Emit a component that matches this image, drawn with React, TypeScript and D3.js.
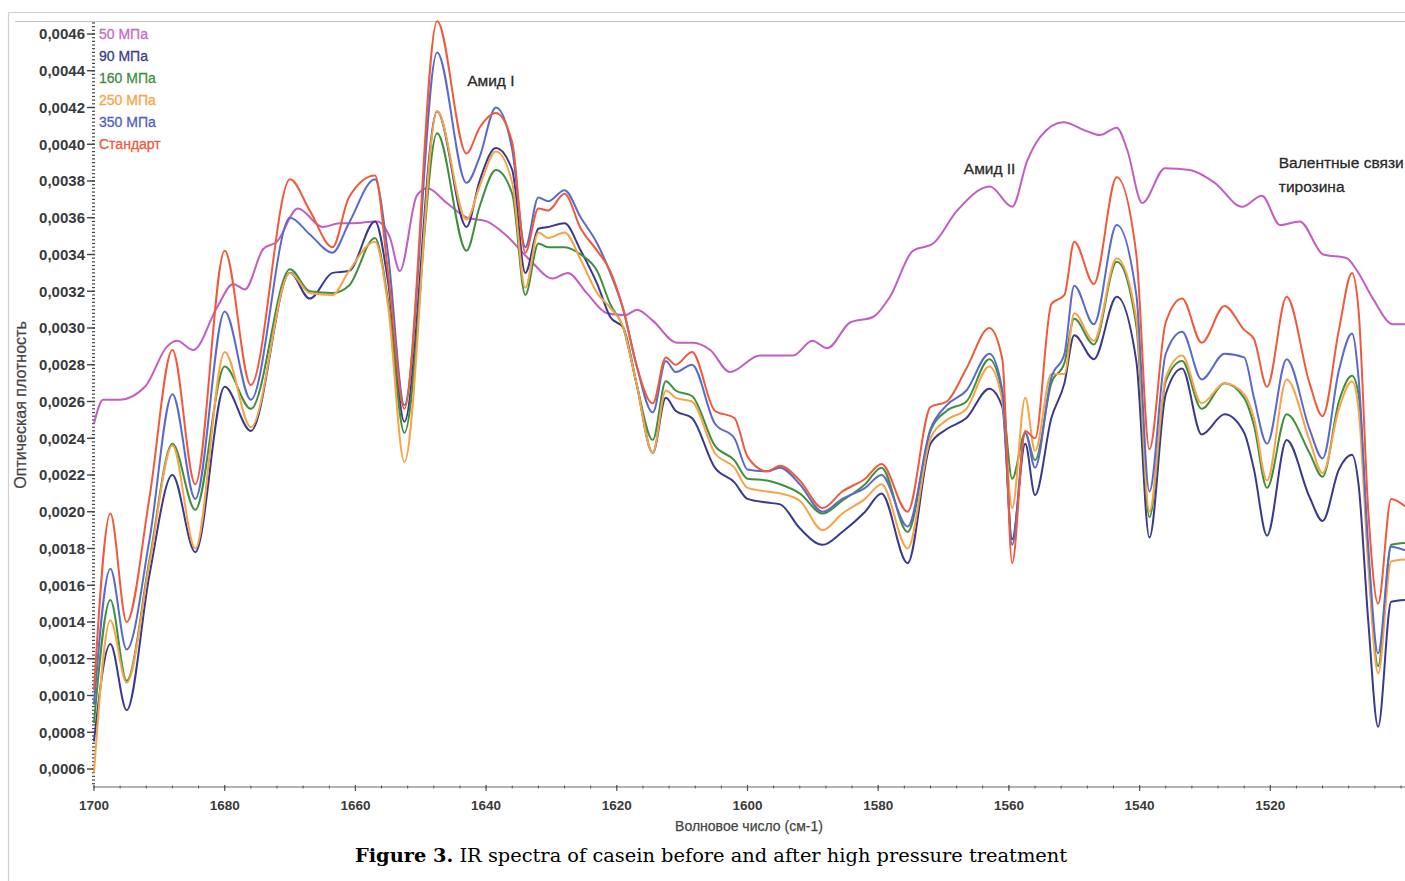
import React from "react";
import * as d3 from "d3";

const W = 1405;
const H = 881;

// ---- data ----
const seriesNames = ["50 МПа", "90 МПа", "160 МПа", "250 МПа", "350 МПа", "Стандарт"];
const seriesColors = ["#c25ec2", "#3a3a8c", "#3f8f3f", "#f6a448", "#5a6acb", "#ef5a3c"];
const legendColors = ["#c46cc4", "#3d3d8c", "#3f8f3f", "#f6a448", "#5060c0", "#ef5a3c"];

const wn50 = [1700, 1698.6, 1696, 1692.2, 1688.8, 1687.3, 1684.8, 1681.2, 1678.7, 1676.9, 1674.1, 1672, 1668.8, 1665, 1662.4, 1660.4, 1656.7, 1654.7, 1653.2, 1650.6, 1649, 1646, 1642.9, 1639.9, 1636.8, 1633.3, 1629.8, 1627.5, 1624.6, 1621.5, 1618.7, 1616.9, 1614.5, 1610.8, 1608.3, 1605.7, 1602.7, 1598.1, 1593, 1590.1, 1587.8, 1584.3, 1580.8, 1578.2, 1574.7, 1571.6, 1567.9, 1562.9, 1559.5, 1557.2, 1555.2, 1551.7, 1548, 1546.1, 1543.5, 1541.9, 1539.6, 1536.1, 1532.3, 1528.5, 1524.3, 1521.3, 1518.5, 1515.5, 1511.9, 1508.3, 1506.7, 1504.3, 1501.2, 1499.4];
const abs50 = [0.00248, 0.00261, 0.00261, 0.00268, 0.00290, 0.00293, 0.00288, 0.00311, 0.00324, 0.00321, 0.00343, 0.00347, 0.00365, 0.00355, 0.00357, 0.00357, 0.00358, 0.00349, 0.00331, 0.00372, 0.00376, 0.00368, 0.00360, 0.00358, 0.00350, 0.00337, 0.00327, 0.00330, 0.00319, 0.00308, 0.00307, 0.00310, 0.00304, 0.00292, 0.00292, 0.00288, 0.00276, 0.00285, 0.00285, 0.00293, 0.00289, 0.00303, 0.00306, 0.00317, 0.00342, 0.00346, 0.00364, 0.00377, 0.00366, 0.00391, 0.00404, 0.00412, 0.00407, 0.00405, 0.00409, 0.00397, 0.00368, 0.00387, 0.00386, 0.00379, 0.00366, 0.00372, 0.00356, 0.00358, 0.00340, 0.00338, 0.00331, 0.00316, 0.00302, 0.00302];

const wn = [1700, 1697.5, 1695, 1691.5, 1688, 1684.5, 1680, 1676, 1670, 1667, 1663.5, 1661, 1657, 1655, 1652.5, 1647.5, 1643, 1641, 1638.5, 1636, 1634, 1632, 1630.5, 1628, 1625.5, 1623, 1621, 1619, 1617, 1614.5, 1612.5, 1611, 1608.5, 1605, 1602, 1600, 1597, 1595, 1592, 1588.5, 1585.5, 1582, 1579.5, 1575.5, 1572, 1569.5, 1566.5, 1563, 1561, 1559.5, 1557.5, 1556, 1553.5, 1551.5, 1550, 1547, 1543.5, 1540.5, 1538.5, 1536, 1533.5, 1530.5, 1527, 1524, 1522.5, 1520.5, 1517.5, 1514, 1512, 1509.5, 1507.5, 1506.5, 1505, 1503.5, 1501.5, 1499.4];

const abs90 = [0.00075, 0.00128, 0.00092, 0.00166, 0.00220, 0.00178, 0.00268, 0.00244, 0.00330, 0.00316, 0.00330, 0.00331, 0.00358, 0.00325, 0.00249, 0.00418, 0.00355, 0.00380, 0.00398, 0.00386, 0.00330, 0.00354, 0.00355, 0.00357, 0.00342, 0.00324, 0.00306, 0.00300, 0.00270, 0.00232, 0.00262, 0.00255, 0.00251, 0.00224, 0.00216, 0.00207, 0.00205, 0.00204, 0.00191, 0.00182, 0.00189, 0.00200, 0.00210, 0.00172, 0.00237, 0.00245, 0.00251, 0.00267, 0.00257, 0.00185, 0.00237, 0.00209, 0.00251, 0.00270, 0.00296, 0.00283, 0.00317, 0.00282, 0.00186, 0.00264, 0.00278, 0.00242, 0.00253, 0.00243, 0.00223, 0.00187, 0.00239, 0.00208, 0.00195, 0.00223, 0.00231, 0.00215, 0.00140, 0.00083, 0.00151, 0.00152];

const abs160 = [0.00085, 0.00152, 0.00108, 0.00174, 0.00237, 0.00201, 0.00279, 0.00256, 0.00332, 0.00320, 0.00319, 0.00323, 0.00349, 0.00315, 0.00243, 0.00406, 0.00342, 0.00366, 0.00386, 0.00373, 0.00318, 0.00346, 0.00344, 0.00344, 0.00340, 0.00331, 0.00313, 0.00300, 0.00270, 0.00239, 0.00271, 0.00266, 0.00263, 0.00236, 0.00228, 0.00218, 0.00217, 0.00215, 0.00210, 0.00199, 0.00206, 0.00215, 0.00224, 0.00189, 0.00244, 0.00255, 0.00260, 0.00283, 0.00264, 0.00218, 0.00243, 0.00228, 0.00270, 0.00281, 0.00305, 0.00291, 0.00336, 0.00301, 0.00197, 0.00271, 0.00282, 0.00256, 0.00270, 0.00262, 0.00247, 0.00213, 0.00253, 0.00232, 0.00219, 0.00260, 0.00274, 0.00264, 0.00175, 0.00116, 0.00182, 0.00183];

const abs250 = [0.00058, 0.00141, 0.00107, 0.00172, 0.00236, 0.00180, 0.00287, 0.00246, 0.00330, 0.00319, 0.00318, 0.00331, 0.00347, 0.00312, 0.00227, 0.00418, 0.00359, 0.00377, 0.00396, 0.00379, 0.00322, 0.00352, 0.00349, 0.00352, 0.00337, 0.00319, 0.00311, 0.00300, 0.00270, 0.00232, 0.00266, 0.00262, 0.00260, 0.00232, 0.00224, 0.00213, 0.00211, 0.00210, 0.00206, 0.00190, 0.00199, 0.00207, 0.00215, 0.00180, 0.00240, 0.00250, 0.00256, 0.00279, 0.00260, 0.00202, 0.00262, 0.00233, 0.00275, 0.00275, 0.00308, 0.00293, 0.00338, 0.00305, 0.00200, 0.00273, 0.00285, 0.00259, 0.00270, 0.00264, 0.00251, 0.00217, 0.00272, 0.00239, 0.00221, 0.00256, 0.00271, 0.00256, 0.00170, 0.00112, 0.00173, 0.00174];

const abs350 = [0.00095, 0.00169, 0.00125, 0.00185, 0.00264, 0.00207, 0.00309, 0.00261, 0.00360, 0.00351, 0.00341, 0.00357, 0.00381, 0.00340, 0.00258, 0.00450, 0.00379, 0.00393, 0.00420, 0.00397, 0.00344, 0.00371, 0.00369, 0.00375, 0.00360, 0.00346, 0.00330, 0.00310, 0.00280, 0.00254, 0.00282, 0.00276, 0.00280, 0.00248, 0.00240, 0.00223, 0.00222, 0.00224, 0.00215, 0.00200, 0.00207, 0.00213, 0.00220, 0.00192, 0.00245, 0.00258, 0.00266, 0.00286, 0.00266, 0.00182, 0.00243, 0.00224, 0.00273, 0.00286, 0.00323, 0.00302, 0.00356, 0.00318, 0.00211, 0.00286, 0.00298, 0.00272, 0.00286, 0.00284, 0.00262, 0.00237, 0.00283, 0.00245, 0.00229, 0.00277, 0.00297, 0.00273, 0.00180, 0.00123, 0.00181, 0.00179];

const absStd = [0.00103, 0.00199, 0.00140, 0.00208, 0.00288, 0.00215, 0.00342, 0.00269, 0.00381, 0.00364, 0.00344, 0.00371, 0.00383, 0.00330, 0.00256, 0.00467, 0.00395, 0.00409, 0.00417, 0.00401, 0.00341, 0.00365, 0.00364, 0.00373, 0.00354, 0.00342, 0.00331, 0.00310, 0.00280, 0.00259, 0.00284, 0.00280, 0.00287, 0.00255, 0.00251, 0.00230, 0.00222, 0.00225, 0.00217, 0.00202, 0.00211, 0.00218, 0.00226, 0.00200, 0.00257, 0.00260, 0.00278, 0.00300, 0.00283, 0.00172, 0.00244, 0.00240, 0.00313, 0.00318, 0.00347, 0.00324, 0.00382, 0.00340, 0.00234, 0.00303, 0.00316, 0.00292, 0.00312, 0.00299, 0.00294, 0.00268, 0.00317, 0.00270, 0.00252, 0.00299, 0.00330, 0.00310, 0.00200, 0.00150, 0.00207, 0.00203];

const yTickValues = [0.0006, 0.0008, 0.0010, 0.0012, 0.0014, 0.0016, 0.0018, 0.0020, 0.0022, 0.0024, 0.0026, 0.0028, 0.0030, 0.0032, 0.0034, 0.0036, 0.0038, 0.0040, 0.0042, 0.0044, 0.0046];
const xTickValues = [1700, 1680, 1660, 1640, 1620, 1600, 1580, 1560, 1540, 1520];

const annotations = [
  { text: "Амид I", wnPos: 1642.9, absPos: 0.00435 },
  { text: "Амид II", wnPos: 1566.9, absPos: 0.00387 },
  { text: "Валентные связи", wnPos: 1518.7, absPos: 0.00390 },
  { text: "тирозина", wnPos: 1518.7, absPos: 0.00377 },
];

export default function App() {
  const x = d3.scaleLinear().domain([1700, 1500]).range([94, 1401]);
  const y = d3.scaleLinear().domain([0.0006, 0.0046]).range([769, 34]);
  const axisBottom = 787;
  const plotTop = 22;

  const line = d3
    .line<[number, number]>()
    .x((d) => x(d[0]))
    .y((d) => y(d[1]))
    .curve(d3.curveMonotoneX);

  const series = [
    { name: seriesNames[0], color: seriesColors[0], pts: wn50.map((w, i) => [w, abs50[i]] as [number, number]) },
    { name: seriesNames[1], color: seriesColors[1], pts: wn.map((w, i) => [w, abs90[i]] as [number, number]) },
    { name: seriesNames[2], color: seriesColors[2], pts: wn.map((w, i) => [w, abs160[i]] as [number, number]) },
    { name: seriesNames[3], color: seriesColors[3], pts: wn.map((w, i) => [w, abs250[i]] as [number, number]) },
    { name: seriesNames[4], color: seriesColors[4], pts: wn.map((w, i) => [w, abs350[i]] as [number, number]) },
    { name: seriesNames[5], color: seriesColors[5], pts: wn.map((w, i) => [w, absStd[i]] as [number, number]) },
  ];

  const yMin = y.invert(axisBottom);
  const yMax = y.invert(plotTop);
  const minorY: number[] = [];
  for (let i = Math.ceil(yMin / 0.00002); i * 0.00002 <= yMax; i++) minorY.push(i * 0.00002);
  const minorX: number[] = [];
  for (let v = 1700; v >= 1499; v -= 4) minorX.push(v);

  const fmt = (v: number) => d3.format(".4f")(v).replace(".", ",");
  const tickFont = "'Liberation Sans', Arial, sans-serif";

  return (
    <svg width={W} height={H} style={{ position: "absolute", left: 0, top: 0, background: "#fff" }}>
      <rect x={0} y={0} width={W} height={H} fill="#fff" />
      {/* frame */}
      <line x1={8.5} y1={12.5} x2={W} y2={12.5} stroke="#d0d0d0" strokeWidth={1.2} />
      <line x1={8.5} y1={12.5} x2={8.5} y2={H} stroke="#d0d0d0" strokeWidth={1.2} />
      <line x1={15} y1={21.5} x2={W} y2={21.5} stroke="#c4c4c4" strokeWidth={1.2} />

      {/* x axis */}
      <line x1={94} y1={axisBottom} x2={W} y2={axisBottom} stroke="#9a9a9a" strokeWidth={1.3} />
      {minorX.map((v) => (
        <line key={"mx" + v} x1={x(v)} x2={x(v)} y1={axisBottom - 1.5} y2={axisBottom + 1.5} stroke="#555" strokeWidth={1} />
      ))}
      {xTickValues.map((v) => (
        <g key={"x" + v}>
          <line x1={x(v)} x2={x(v)} y1={axisBottom - 2} y2={axisBottom + 4} stroke="#555" strokeWidth={1.2} />
          <text x={x(v)} y={810} textAnchor="middle" fontFamily={tickFont} fontSize={13.5} fontWeight="bold" fill="#3a3a3a">
            {v}
          </text>
        </g>
      ))}

      {/* y axis */}
      {minorY.map((v, i) => (
        <line key={"my" + i} x1={92} x2={95} y1={y(v)} y2={y(v)} stroke="#444" strokeWidth={1.2} />
      ))}
      {yTickValues.map((v) => (
        <g key={"y" + v}>
          <line x1={87} x2={95} y1={y(v)} y2={y(v)} stroke="#444" strokeWidth={1.4} />
          <text x={85} y={y(v)} dy="0.36em" textAnchor="end" fontFamily={tickFont} fontSize={15} fontWeight="bold" fill="#3a3a3a">
            {fmt(v)}
          </text>
        </g>
      ))}

      {/* axis titles */}
      <text x={749} y={831} textAnchor="middle" fontFamily={tickFont} fontSize={14} fill="#444" stroke="#444" strokeWidth={0.25}>
        Волновое число (см-1)
      </text>
      <text transform="translate(26,405) rotate(-90)" textAnchor="middle" fontFamily={tickFont} fontSize={16} fill="#444" stroke="#444" strokeWidth={0.25}>
        Оптическая плотность
      </text>

      {/* series */}
      <g>
        {series.map((s) => (
          <path key={s.name} d={line(s.pts) || ""} fill="none" stroke={s.color} strokeWidth={2} strokeLinejoin="round" />
        ))}
      </g>

      {/* legend */}
      {seriesNames.map((n, i) => (
        <text key={n} x={99} y={34 + i * 22} dy="0.36em" fontFamily={tickFont} fontSize={14} fill={legendColors[i]} stroke={legendColors[i]} strokeWidth={0.3}>
          {n}
        </text>
      ))}

      {/* annotations */}
      {annotations.map((a) => (
        <text key={a.text} x={x(a.wnPos)} y={y(a.absPos)} dy="0.36em" fontFamily={tickFont} fontSize={15.5} fill="#2a2a2a" stroke="#2a2a2a" strokeWidth={0.3}>
          {a.text}
        </text>
      ))}

      {/* caption */}
      <text x={711} y={862} textAnchor="middle" fontFamily="'DejaVu Serif', 'Liberation Serif', serif" fontSize={19.4} fill="#000">
        <tspan fontWeight="bold">Figure 3.</tspan>
        <tspan> IR spectra of casein before and after high pressure treatment</tspan>
      </text>
    </svg>
  );
}
